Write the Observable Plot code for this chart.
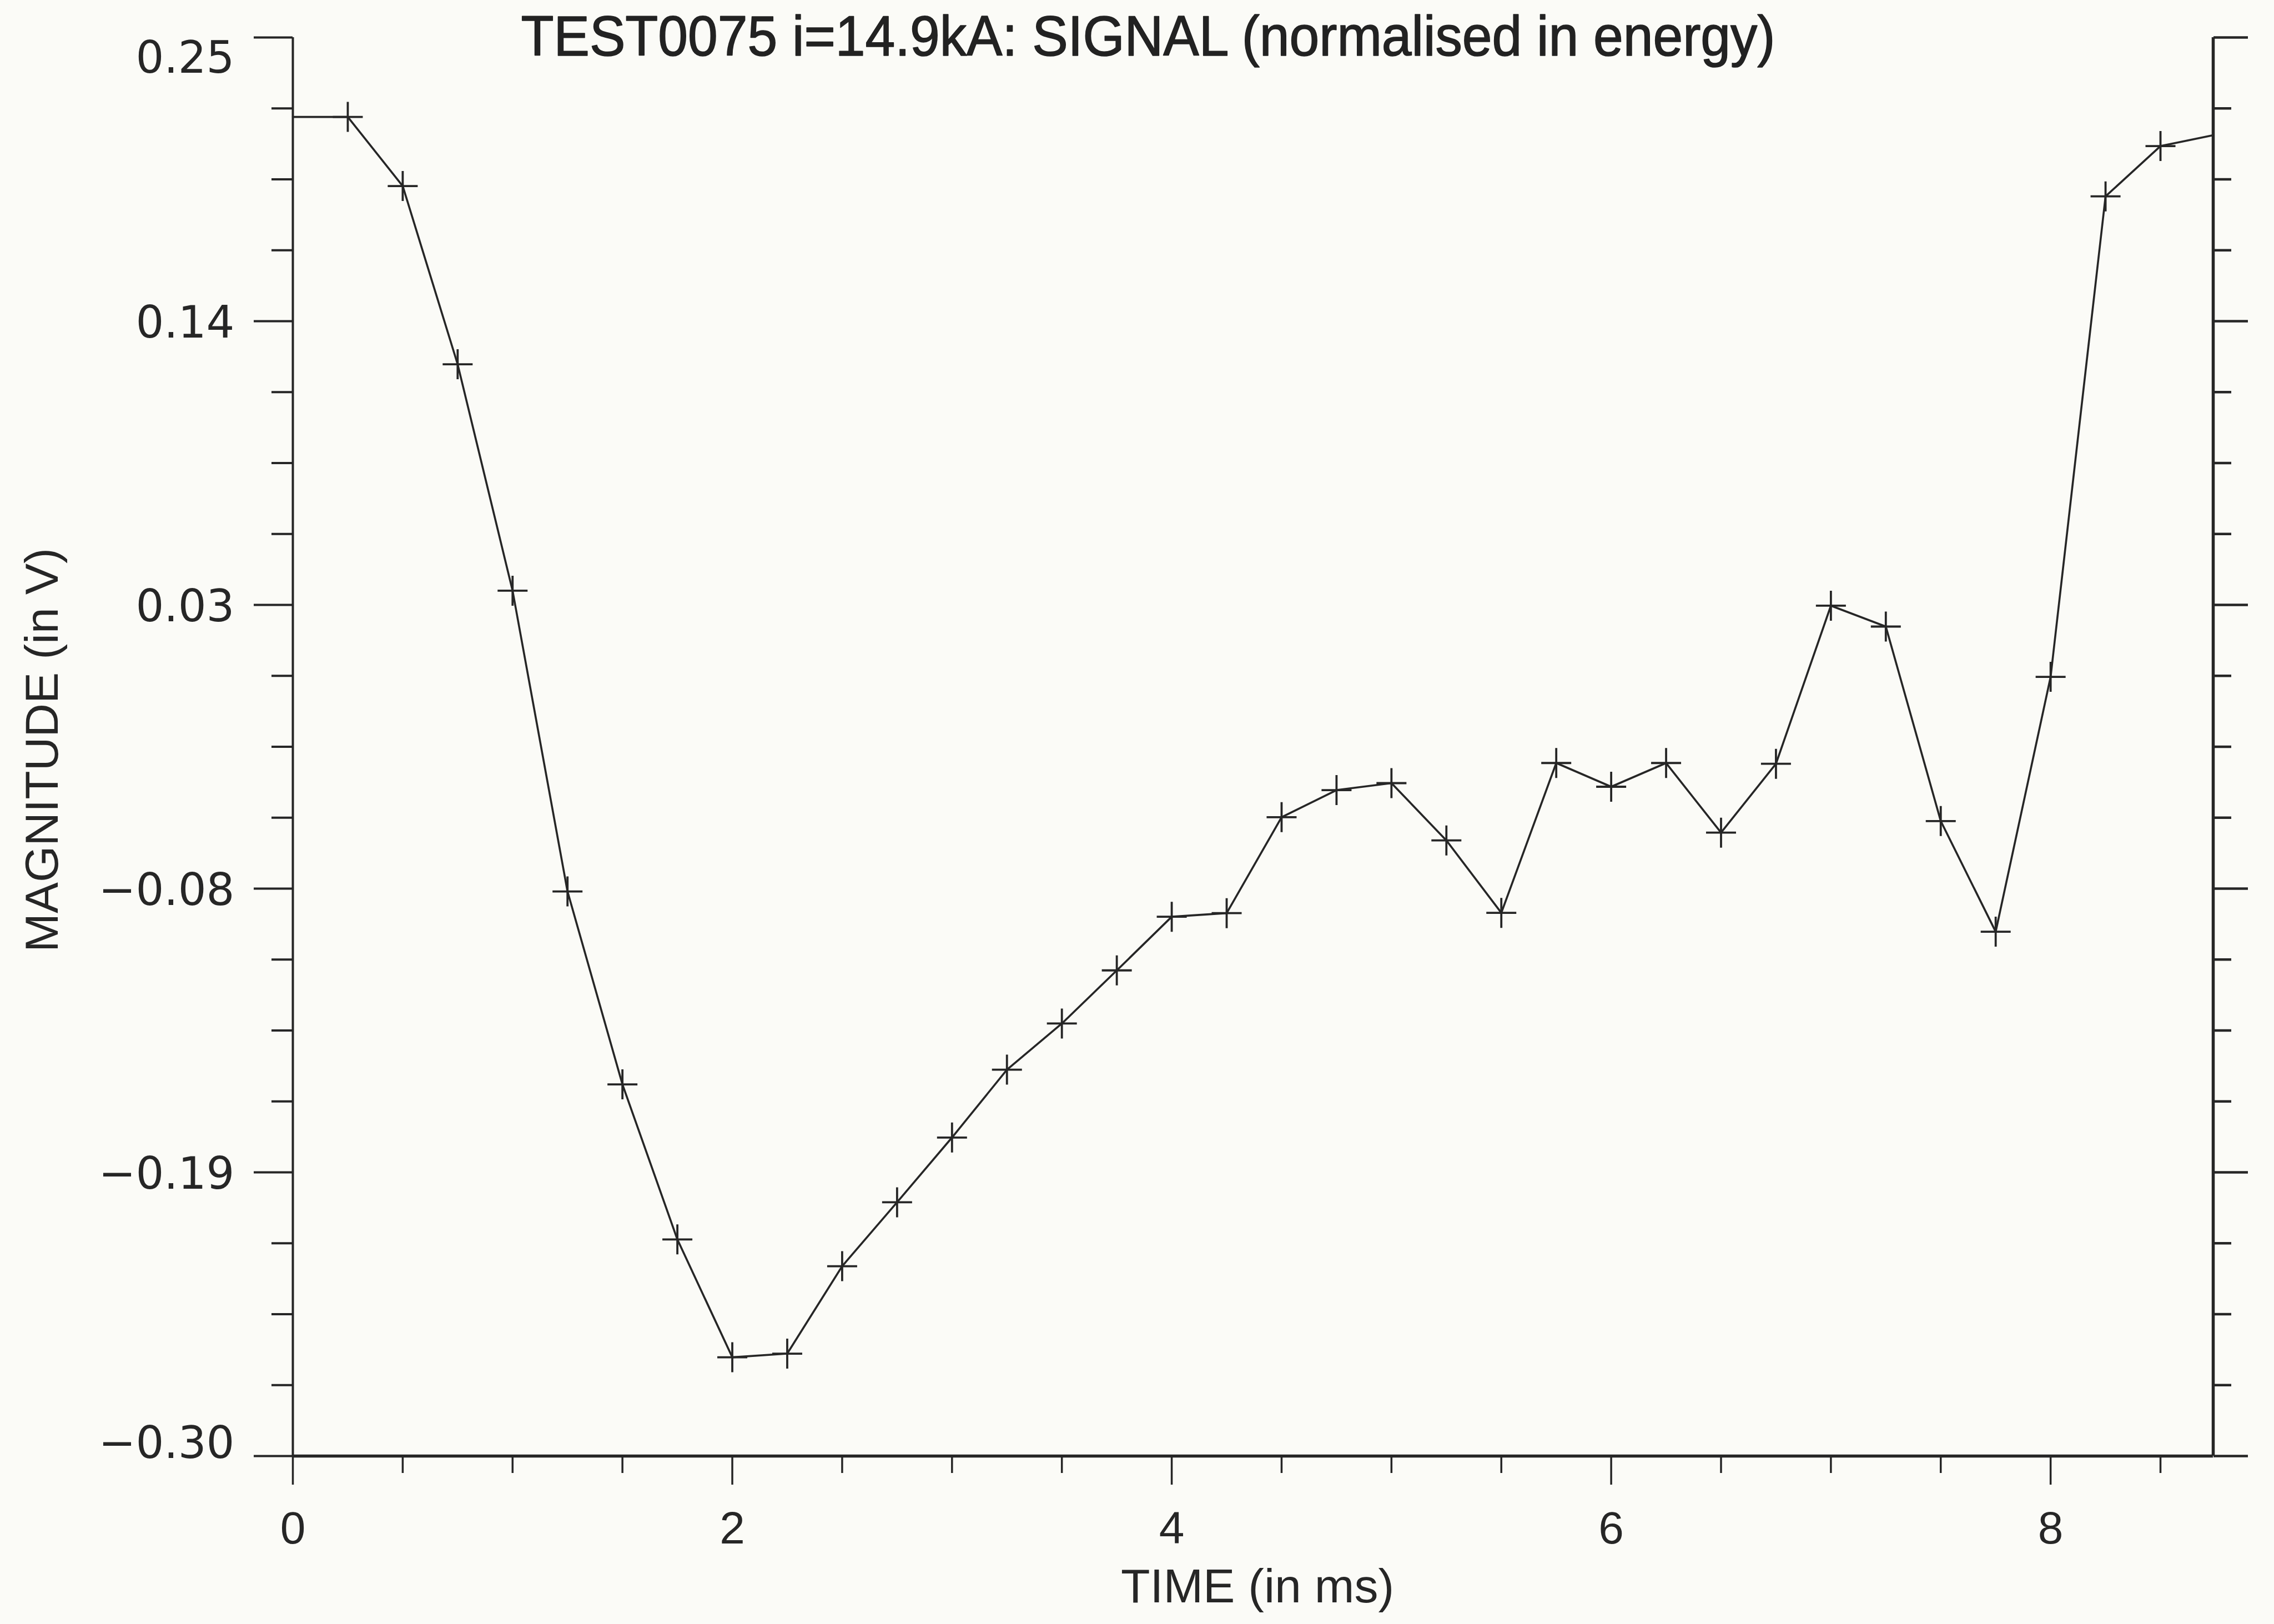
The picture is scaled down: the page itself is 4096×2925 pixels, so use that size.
<!DOCTYPE html>
<html>
<head>
<meta charset="utf-8">
<script src="https://cdn.jsdelivr.net/npm/d3@7"></script>
<script src="https://cdn.jsdelivr.net/npm/@observablehq/plot@0.6"></script>
<style>
  html, body { margin: 0; padding: 0; background: #fbfbf7; }
  #chart svg { display: block; }
</style>
</head>
<body>
<div id="chart"></div>
<script>
// ---- text ----
const titleText = "TEST0075 i=14.9kA: SIGNAL (normalised in energy)";
const xLabelText = "TIME (in ms)";
const yLabelText = "MAGNITUDE (in V)";

// ---- data ----
const timeMs = [0, 0.25, 0.5, 0.75, 1.0, 1.25, 1.5, 1.75, 2.0, 2.25, 2.5, 2.75, 3.0, 3.25, 3.5, 3.75,
  4.0, 4.25, 4.5, 4.75, 5.0, 5.25, 5.5, 5.75, 6.0, 6.25, 6.5, 6.75, 7.0, 7.25, 7.5, 7.75,
  8.0, 8.25, 8.5, 8.74];
const magnitudeV = [0.2192, 0.2192, 0.1924, 0.1233, 0.0355, -0.0811, -0.1559, -0.2160, -0.2617, -0.2603,
  -0.2264, -0.2016, -0.1765, -0.1502, -0.1323, -0.1117, -0.0909, -0.0895, -0.0523, -0.0418,
  -0.0391, -0.0613, -0.0894, -0.0313, -0.0405, -0.0313, -0.0583, -0.0316, 0.0297, 0.0216,
  -0.0538, -0.0967, 0.0021, 0.1884, 0.2079, 0.2121];

// ---- axes ----
const xDomain = [0, 8.74];
const yDomain = [-0.30, 0.25];
const xMajorTicks = [0, 2, 4, 6, 8];
const xMinorTicks = [0.5, 1, 1.5, 2.5, 3, 3.5, 4.5, 5, 5.5, 6.5, 7, 7.5, 8.5];
const yMajorTicks = [0.25, 0.14, 0.03, -0.08, -0.19, -0.30];
const yMinorTicks = [0.2225, 0.195, 0.1675, 0.1125, 0.085, 0.0575, 0.0025, -0.025, -0.0525,
  -0.1075, -0.135, -0.1625, -0.2175, -0.245, -0.2725];

const data = timeMs.map((t, i) => ({t, v: magnitudeV[i]}));

const ink = "#262626";
const plusSymbol = {
  draw(ctx, size) {
    const a = Math.sqrt(size / Math.PI);
    ctx.moveTo(-a, 0); ctx.lineTo(a, 0);
    ctx.moveTo(0, -a); ctx.lineTo(0, a);
  }
};
const fmtY = d3.format(".2f");
const yLabelStyle = {fontFamily: "'DejaVu Sans', sans-serif", fontSize: 80, fill: ink,
  frameAnchor: "left", textAnchor: "end", dx: -105, lineAnchor: "middle"};

const chart = Plot.plot({
  width: 4096,
  height: 2925,
  marginLeft: 527,
  marginRight: 110,
  marginTop: 67,
  marginBottom: 303,
  x: {domain: xDomain},
  y: {domain: yDomain},
  style: {background: "#fbfbf7", color: ink, fontFamily: "'Liberation Sans', Arial, sans-serif", overflow: "visible"},
  marks: [
    // axis lines
    Plot.ruleX([xDomain[0]], {stroke: ink, strokeWidth: 4}),
    Plot.ruleX([xDomain[1]], {stroke: ink, strokeWidth: 5.5}),
    Plot.ruleY([yDomain[0]], {stroke: ink, strokeWidth: 5.5}),
    // ticks
    Plot.axisY({anchor: "left", ticks: yMajorTicks, tickSize: 70, strokeWidth: 4, stroke: ink, fill: "none", label: null}),
    Plot.axisY({anchor: "left", ticks: yMinorTicks, tickSize: 38, strokeWidth: 4, stroke: ink, fill: "none", label: null}),
    Plot.axisY({anchor: "right", ticks: yMajorTicks, tickSize: 62, strokeWidth: 4.5, stroke: ink, fill: "none", label: null}),
    Plot.axisY({anchor: "right", ticks: yMinorTicks, tickSize: 32, strokeWidth: 4.5, stroke: ink, fill: "none", label: null}),
    Plot.axisX({anchor: "bottom", ticks: xMajorTicks, tickSize: 52, tickPadding: 47, strokeWidth: 3.5, stroke: ink,
      fill: ink, fontSize: 82, fontFamily: "'Liberation Sans', Arial, sans-serif", tickFormat: d => String(d), label: null}),
    Plot.axisX({anchor: "bottom", ticks: xMinorTicks, tickSize: 31, strokeWidth: 3.5, stroke: ink, fill: "none", label: null}),
    // y tick labels
    Plot.text(yMajorTicks.filter(d => d === yDomain[1]), {y: d => d, text: d => fmtY(d), ...yLabelStyle, dy: 38}),
    Plot.text(yMajorTicks.filter(d => d !== yDomain[1] && d !== yDomain[0]), {y: d => d, text: d => fmtY(d), ...yLabelStyle, dy: 4}),
    Plot.text(yMajorTicks.filter(d => d === yDomain[0]), {y: d => d, text: d => fmtY(d), ...yLabelStyle, dy: -22}),
    // data
    Plot.line(data, {x: "t", y: "v", stroke: ink, strokeWidth: 3.6}),
    Plot.dot(data.filter(d => d.t > xDomain[0] && d.t < xDomain[1]), {x: "t", y: "v", symbol: plusSymbol, r: 27,
      fill: "none", stroke: ink, strokeWidth: 3.8}),
    // titles
    Plot.text([titleText], {frameAnchor: "top", lineAnchor: "middle", textAnchor: "middle", dx: -189, fontSize: 102,
      fill: "#222", stroke: "#222", strokeWidth: 1.6, fontFamily: "'Liberation Sans', Arial, sans-serif"}),
    Plot.text([xLabelText], {frameAnchor: "bottom", lineAnchor: "bottom", textAnchor: "middle", dy: 263, dx: 8, fontSize: 86, fill: ink,
      fontFamily: "'Liberation Sans', Arial, sans-serif"}),
    Plot.text([yLabelText], {frameAnchor: "left", rotate: -90, lineAnchor: "bottom", textAnchor: "middle", dx: -424, dy: 6, fontSize: 84, fill: ink,
      fontFamily: "'Liberation Sans', Arial, sans-serif"})
  ]
});

chart.querySelectorAll("text").forEach(t => {
  if (t.textContent === titleText) {
    t.setAttribute("textLength", 2259);
    t.setAttribute("lengthAdjust", "spacingAndGlyphs");
  }
});
document.getElementById("chart").appendChild(chart);
</script>
</body>
</html>
